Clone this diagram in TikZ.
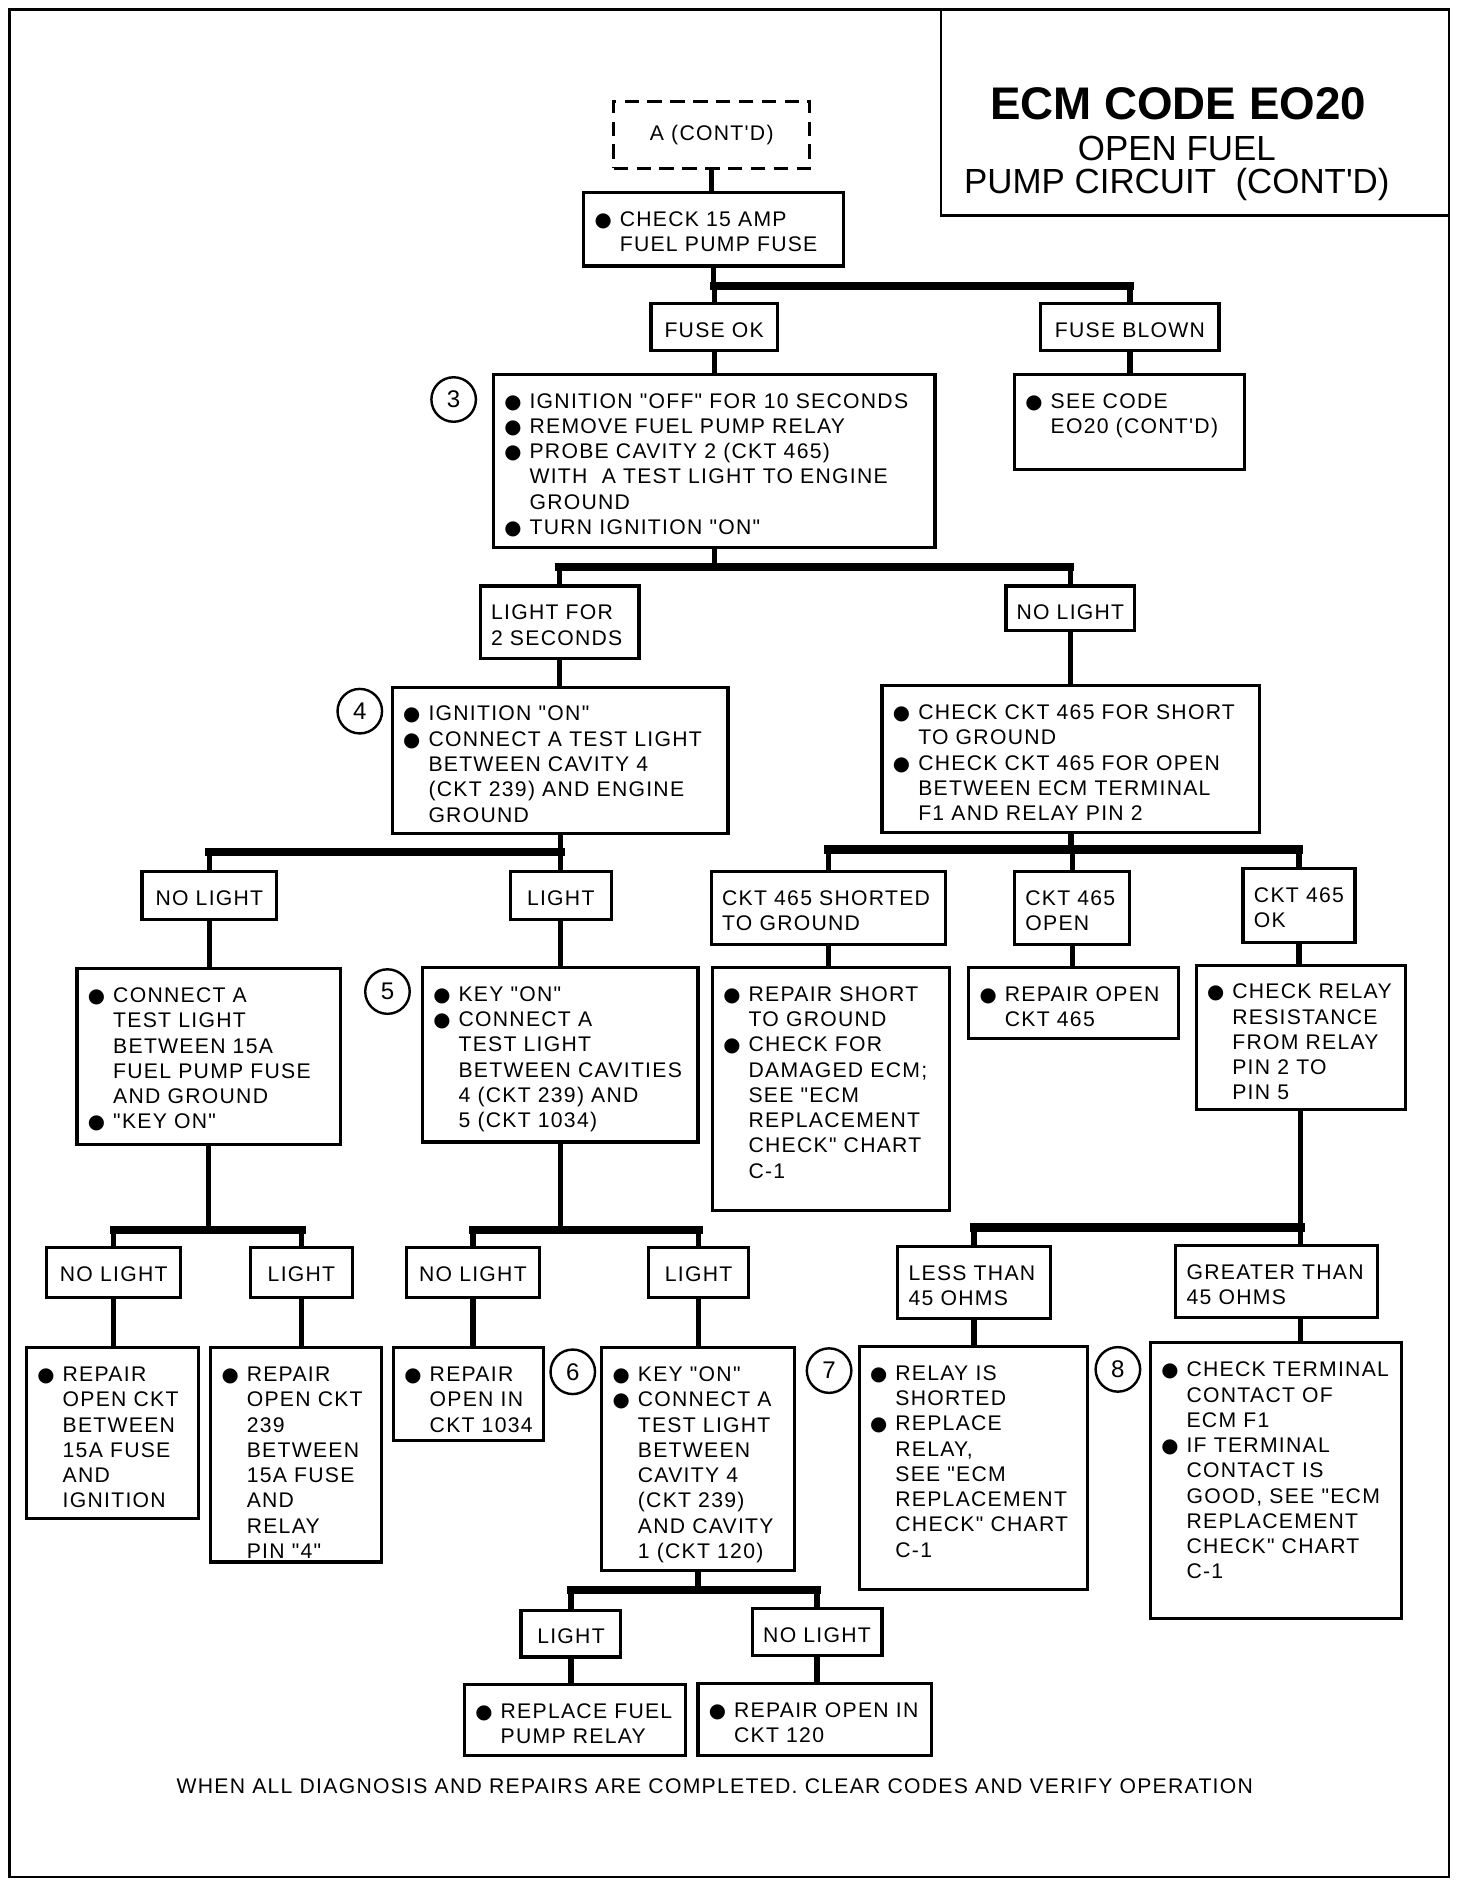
\documentclass[tikz,border=0pt]{standalone}
\usepackage{fontspec}
\setmainfont{Liberation Sans}[LetterSpace=6,Ligatures=TeXOff]
\newfontfamily\ttlfont{Liberation Sans}[Ligatures=TeXOff]
\newfontfamily\symf{DejaVu Sans}
\usetikzlibrary{fit}

\newcommand{\bul}{\makebox[10.5pt][l]{\symf\fontsize{8.2}{8.2}\selectfont ●}}
\newcommand{\ind}{\hspace*{10.5pt}}
\newcommand{\bx}[5]{\node[box,fit={(#2,#3)(#4,#5)}](#1){};}
\newcommand{\tx}[2]{\node[txt](#1-t)at([shift={(10,13)}]#1.north west){\rule{0pt}{8pt}#2};}
\newcommand{\lb}[2]{\node[txt,anchor=north](#1-t)at([yshift=-6.5pt]#1.north){\rule{0pt}{8pt}#2};}

\tikzset{
	box/.style={draw,line width=1.3pt,inner sep=0pt},
	stem/.style={line width=2.2pt},
	bar/.style={line width=3.4pt,line cap=rect},
	txt/.style={inner sep=0pt,align=left,anchor=north west,font=\fontsize{8.8}{10.5}\selectfont},
	num/.style={draw,circle,line width=1pt,minimum size=18.5pt,inner sep=0pt,font=\fontsize{10}{10}\selectfont}
}

\begin{document}
\begin{tikzpicture}[x=0.5pt,y=-0.5pt]
				\useasboundingbox(0,0)rectangle(1210,1564);
				\draw[line width=1pt](8,8)rectangle(1204,1560);
				\draw[line width=1pt](782,8)--(782,179)--(1204,179);
				\node[font=\ttlfont\bfseries\fontsize{19}{19}\selectfont](ttl1)at(979,86){ECM CODE EO20};
				\node[font=\ttlfont\fontsize{14.5}{14.5}\selectfont](ttl2)at(978,123){OPEN FUEL};
				\node[font=\ttlfont\fontsize{14.5}{14.5}\selectfont](ttl3)at(978,153){PUMP CIRCUIT\ \ (CONT'D)};

				\node[box,dash pattern=on 6pt off 3.5pt,fit={(510,84)(673,140)}](cont){};
				\node[txt,anchor=center](cont-t)at(cont.center){A (CONT'D)};
				\bx{chk}{485}{160}{701}{221}
				\bx{fok}{541}{252}{646}{291}
				\bx{fbl}{865}{252}{1013}{291}
				\bx{b3}{410}{311}{777}{455}
				\bx{see}{843}{311}{1034}{390}
				\bx{lf2}{399}{487}{531}{547}
				\bx{nl1}{836}{487}{943}{524}
				\bx{b4}{326}{571}{605}{693}
				\bx{bchk}{733}{570}{1047}{692}
				\bx{nl2}{118}{724}{230}{764}
				\bx{l2}{424}{724}{508}{764}
				\bx{sh}{591}{724}{786}{785}
				\bx{op}{843}{724}{939}{785}
				\bx{ok}{1033}{722}{1126}{783}
				\bx{bcon}{64}{805}{283}{951}
				\bx{b5}{351}{804}{580}{949}
				\bx{brs}{592}{804}{789}{1006}
				\bx{bro}{805}{804}{979}{863}
				\bx{brel}{994}{802}{1168}{922}
				\bx{nl3}{39}{1037}{150}{1078}
				\bx{l3}{208}{1037}{293}{1078}
				\bx{nl4}{338}{1037}{448}{1078}
				\bx{l4}{539}{1037}{622}{1078}
				\bx{less}{746}{1036}{873}{1096}
				\bx{grt}{977}{1035}{1145}{1095}
				\bx{r1}{22}{1120}{165}{1262}
				\bx{r2}{175}{1120}{317}{1298}
				\bx{r3}{327}{1120}{452}{1197}
				\bx{b6}{500}{1120}{660}{1305}
				\bx{b7}{714}{1119}{904}{1321}
				\bx{b8}{956}{1116}{1165}{1345}
				\bx{l5}{433}{1338}{516}{1377}
				\bx{nl5}{625}{1337}{733}{1376}
				\bx{rfp}{386}{1400}{570}{1459}
				\bx{r120}{580}{1399}{774}{1459}

				\tx{chk}{\bul CHECK 15 AMP\\\ind FUEL PUMP FUSE}
				\lb{fok}{FUSE OK}
				\lb{fbl}{FUSE BLOWN}
				\tx{b3}{\bul IGNITION "OFF" FOR 10 SECONDS\\\bul REMOVE FUEL PUMP RELAY\\\bul PROBE CAVITY 2 (CKT 465)\\\ind WITH\ \ A TEST LIGHT TO ENGINE\\\ind GROUND\\\bul TURN IGNITION "ON"}
				\tx{see}{\bul SEE CODE\\\ind EO20 (CONT'D)}
				\tx{lf2}{LIGHT FOR\\2 SECONDS}
				\lb{nl1}{NO LIGHT}
				\tx{b4}{\bul IGNITION "ON"\\\bul CONNECT A TEST LIGHT\\\ind BETWEEN CAVITY 4\\\ind (CKT 239) AND ENGINE\\\ind GROUND}
				\tx{bchk}{\bul CHECK CKT 465 FOR SHORT\\\ind TO GROUND\\\bul CHECK CKT 465 FOR OPEN\\\ind BETWEEN ECM TERMINAL\\\ind F1 AND RELAY PIN 2}
				\lb{nl2}{NO LIGHT}
				\lb{l2}{LIGHT}
				\tx{sh}{CKT 465 SHORTED\\TO GROUND}
				\tx{op}{CKT 465\\OPEN}
				\tx{ok}{CKT 465\\OK}
				\tx{bcon}{\bul CONNECT A\\\ind TEST LIGHT\\\ind BETWEEN 15A\\\ind FUEL PUMP FUSE\\\ind AND GROUND\\\bul "KEY ON"}
				\tx{b5}{\bul KEY "ON"\\\bul CONNECT A\\\ind TEST LIGHT\\\ind BETWEEN CAVITIES\\\ind 4 (CKT 239) AND\\\ind 5 (CKT 1034)}
				\tx{brs}{\bul REPAIR SHORT\\\ind TO GROUND\\\bul CHECK FOR\\\ind DAMAGED ECM;\\\ind SEE "ECM\\\ind REPLACEMENT\\\ind CHECK" CHART\\\ind C-1}
				\tx{bro}{\bul REPAIR OPEN\\\ind CKT 465}
				\tx{brel}{\bul CHECK RELAY\\\ind RESISTANCE\\\ind FROM RELAY\\\ind PIN 2 TO\\\ind PIN 5}
				\lb{nl3}{NO LIGHT}
				\lb{l3}{LIGHT}
				\lb{nl4}{NO LIGHT}
				\lb{l4}{LIGHT}
				\tx{less}{LESS THAN\\45 OHMS}
				\tx{grt}{GREATER THAN\\45 OHMS}
				\tx{r1}{\bul REPAIR\\\ind OPEN CKT\\\ind BETWEEN\\\ind 15A FUSE\\\ind AND\\\ind IGNITION}
				\tx{r2}{\bul REPAIR\\\ind OPEN CKT\\\ind 239\\\ind BETWEEN\\\ind 15A FUSE\\\ind AND\\\ind RELAY\\\ind PIN "4"}
				\tx{r3}{\bul REPAIR\\\ind OPEN IN\\\ind CKT 1034}
				\tx{b6}{\bul KEY "ON"\\\bul CONNECT A\\\ind TEST LIGHT\\\ind BETWEEN\\\ind CAVITY 4\\\ind (CKT 239)\\\ind AND CAVITY\\\ind 1 (CKT 120)}
				\tx{b7}{\bul RELAY IS\\\ind SHORTED\\\bul REPLACE\\\ind RELAY,\\\ind SEE "ECM\\\ind REPLACEMENT\\\ind CHECK" CHART\\\ind C-1}
				\tx{b8}{\bul CHECK TERMINAL\\\ind CONTACT OF\\\ind ECM F1\\\bul IF TERMINAL\\\ind CONTACT IS\\\ind GOOD, SEE "ECM\\\ind REPLACEMENT\\\ind CHECK" CHART\\\ind C-1}
				\lb{l5}{LIGHT}
				\lb{nl5}{NO LIGHT}
				\tx{rfp}{\bul REPLACE FUEL\\\ind PUMP RELAY}
				\tx{r120}{\bul REPAIR OPEN IN\\\ind CKT 120}

				\node[num](n3)at(377,332){3};
				\node[num](n4)at(299,591){4};
				\node[num](n5)at(322,824){5};
				\node[num](n6)at(476,1140){6};
				\node[num](n7)at(689,1139){7};
				\node[num](n8)at(929,1138){8};

				\coordinate(j1)at(chk.south|-0,238);
				\coordinate(j2)at(b3.south|-0,471);
				\coordinate(j3)at(b4.south|-0,708);
				\coordinate(j4)at(bchk.south|-0,706);
				\coordinate(j5)at(bcon.south|-0,1022);
				\coordinate(j6)at(b5.south|-0,1022);
				\coordinate(j7)at(brel.south|-0,1020);
				\coordinate(j8)at(b6.south|-0,1321);
				\foreach \p/\j in {chk/j1,b3/j2,b4/j3,bchk/j4,bcon/j5,b5/j6,b6/j8}
					\draw[stem](\p.south)--(\j);
				\foreach \c/\j in {fok/j1,fbl/j1,lf2/j2,nl1/j2,nl2/j3,l2/j3,sh/j4,op/j4,ok/j4,nl3/j5,l3/j5,nl4/j6,l4/j6,less/j7,l5/j8,nl5/j8}
					\draw[stem](\c.north|-\j)--(\c.north);
				\draw[bar](fok.north|-j1)--(fbl.north|-j1);
				\draw[bar](lf2.north|-j2)--(nl1.north|-j2);
				\draw[bar](nl2.north|-j3)--(l2.north|-j3);
				\draw[bar](sh.north|-j4)--(ok.north|-j4);
				\draw[bar](nl3.north|-j5)--(l3.north|-j5);
				\draw[bar](nl4.north|-j6)--(l4.north|-j6);
				\draw[bar](less.north|-j7)--(j7);
				\draw[bar](l5.north|-j8)--(nl5.north|-j8);
				\draw[stem](brel.south)--(brel.south|-grt.north);
				\draw[stem](grt.south-|brel.south)--(brel.south|-b8.north);
				\foreach \a/\b in {cont/chk,fok/b3,fbl/see,lf2/b4,nl1/bchk,nl2/bcon,l2/b5,sh/brs,op/bro,ok/brel,nl3/r1,l3/r2,nl4/r3,l4/b6,less/b7,l5/rfp,nl5/r120}
					\draw[stem](\a.south)--(\a.south|-\b.north);

				\node[txt,anchor=center](foot)at(594,1484){WHEN ALL DIAGNOSIS AND REPAIRS ARE COMPLETED. CLEAR CODES AND VERIFY OPERATION};
\end{tikzpicture}
\end{document}
